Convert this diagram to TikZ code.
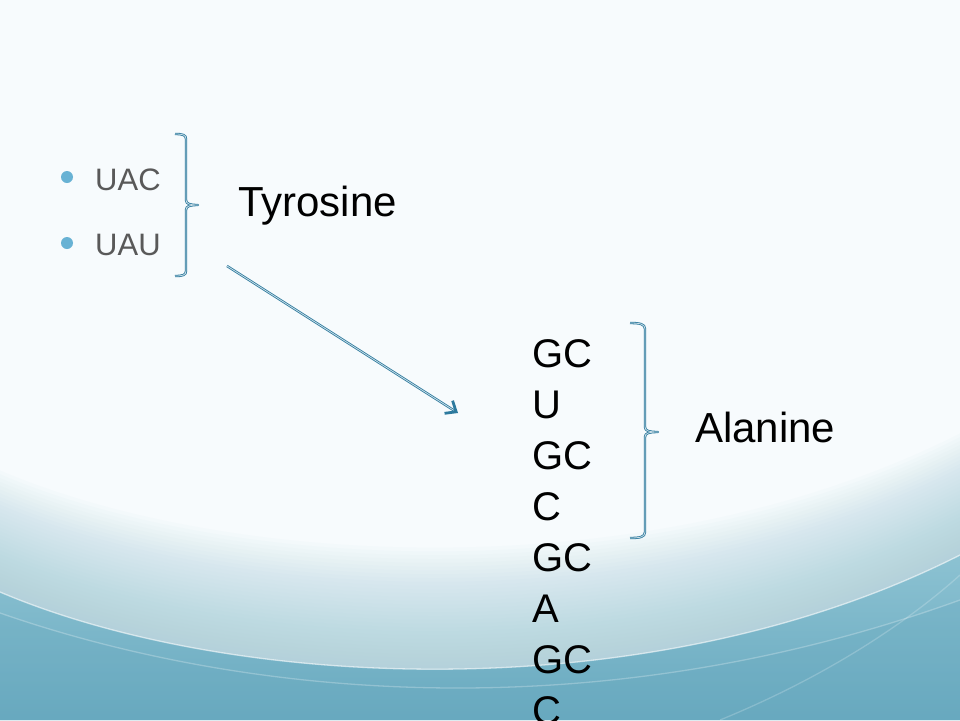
\documentclass[tikz,border=0pt]{standalone}
\usepackage{fontspec}
\setmainfont{Liberation Sans}
\usetikzlibrary{arrows.meta,calc}
\definecolor{bgA}{RGB}{247,251,253}
\definecolor{bgF}{RGB}{165,206,219}
\definecolor{tealA}{RGB}{140,194,210}
\definecolor{tealB}{RGB}{104,169,191}
\definecolor{bracecol}{RGB}{45,122,158}
\definecolor{bulletcol}{RGB}{104,178,212}
\definecolor{graytext}{RGB}{89,89,89}
\tikzset{
  bracket/.style={draw=bracecol, double=white!75!bracecol, line width=0.8pt, double distance=0.8pt, line join=round},
  big/.style={font=\fontsize{40}{48}\selectfont, text=black, inner sep=0pt},
  label/.style={font=\fontsize{42}{50}\selectfont, text=black, inner sep=0pt},
  small/.style={font=\fontsize{31}{37}\selectfont, text=graytext, inner sep=0pt},
  bullet/.style={circle, fill=bulletcol, minimum size=12pt, inner sep=0pt},
  sheen/.style={draw=white, line width=1.3pt, draw opacity=0.6}
}
\begin{document}
\begin{tikzpicture}[x=1pt,y=-1pt]
\useasboundingbox (0,0) rectangle (960,720);
\begin{scope}
\clip (0,0) rectangle (960,720);
% background
\fill[bgA] (0,0) rectangle (960,720);
\foreach \k in {1,...,32}
  \fill[bgF, fill opacity=0.038] (0,{592-\k*3.8}) .. controls (230,{690-\k*3.8}) and (650,{712-\k*3.8}) .. (960,{555-\k*3.8}) -- (960,720) -- (0,720) -- cycle;
\shade[top color=tealA, bottom color=tealB] (0,592) .. controls (230,690) and (650,712) .. (960,555) -- (960,720) -- (0,720) -- cycle;
\fill[tealB, fill opacity=0.3] (0,613) .. controls (250,700) and (600,730) .. (960,600) -- (960,720) -- (0,720) -- cycle;
\draw[sheen] (0,592) .. controls (230,690) and (650,712) .. (960,555);
\draw[sheen, draw opacity=0.25] (0,613) .. controls (250,700) and (600,730) .. (960,600);
\draw[sheen, draw opacity=0.2] (720,720) .. controls (830,675) and (910,620) .. (960,575);

% bullets and left texts
\node[bullet] (b1) at (67,177) {};
\node[bullet] (b2) at (67,243) {};
\node[small, anchor=base west] (uac) at (95,190) {UAC};
\node[small, anchor=base west] (uau) at (95,255) {UAU};

% brace 1
\draw[bracket] (175,134) .. controls (183,134) and (186,135) .. (186,139) -- (186,200)
  .. controls (186,204) and (190,205) .. (198,205)
  .. controls (190,205) and (186,206) .. (186,210) -- (186,271)
  .. controls (186,275) and (183,276) .. (175,276);
\node[label, anchor=base west] (tyr) at (238,216) {Tyrosine};

% arrow
\coordinate (arrS) at (227,266);
\coordinate (arrE) at (458,413);
\draw[bracket, shorten >=3pt] (arrS) -- (arrE);
\draw[draw=bracecol, line width=2.8pt, -{Straight Barb[length=9pt, width=15pt, line width=2.8pt]}] ($(arrE)!5pt!(arrS)$) -- (arrE);

% column
\foreach \t [count=\i] in {GC,U,GC,C,GC,A,GC,C}
  \node[big, anchor=base west] (col\i) at (532,{367+51*(\i-1)}) {\t};

% brace 2
\draw[bracket] (630,323) .. controls (640,323) and (645,324) .. (645,329) -- (645,427)
  .. controls (645,431) and (649,432) .. (658,432)
  .. controls (649,432) and (645,433) .. (645,437) -- (645,532)
  .. controls (645,537) and (640,538) .. (630,538);
\node[label, anchor=base west] (ala) at (695,442) {Alanine};
\end{scope}
\end{tikzpicture}
\end{document}
